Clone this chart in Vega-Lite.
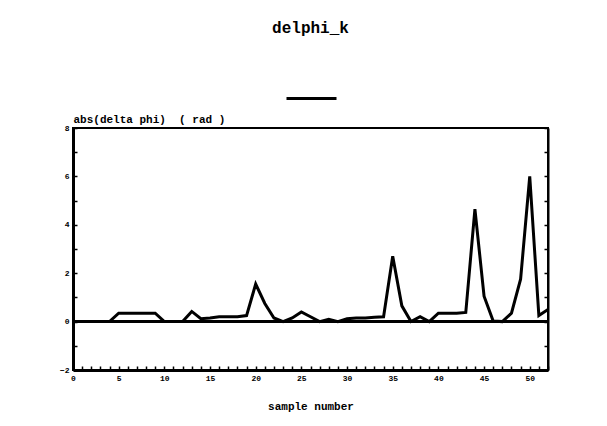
{
  "$schema": "https://vega.github.io/schema/vega-lite/v6.json",
  "autosize": "none",
  "width": 475,
  "height": 242,
  "padding": {"left": 73, "top": 128, "right": 59, "bottom": 56},
  "background": "white",
  "title": {
    "text": "delphi_k",
    "font": "Liberation Mono",
    "fontSize": 16,
    "fontWeight": "bold",
    "color": "black",
    "anchor": "middle",
    "offset": 36
  },
  "config": {
    "view": {"stroke": "black", "strokeWidth": 2},
    "axis": {
      "labelFont": "Liberation Mono",
      "labelFontWeight": "bold",
      "labelFontSize": 8,
      "labelColor": "black",
      "labelOverlap": false,
      "titleFont": "Liberation Mono",
      "titleFontWeight": "bold",
      "titleFontSize": 11,
      "titleColor": "black",
      "domainColor": "black",
      "tickColor": "black",
      "grid": false
    }
  },
  "data": {
    "values": [
      {"n": 0, "v": 0}, {"n": 1, "v": 0}, {"n": 2, "v": 0}, {"n": 3, "v": 0},
      {"n": 4, "v": 0}, {"n": 5, "v": 0.35}, {"n": 6, "v": 0.35}, {"n": 7, "v": 0.35},
      {"n": 8, "v": 0.35}, {"n": 9, "v": 0.35}, {"n": 10, "v": 0}, {"n": 11, "v": 0},
      {"n": 12, "v": 0}, {"n": 13, "v": 0.42}, {"n": 14, "v": 0.12}, {"n": 15, "v": 0.15},
      {"n": 16, "v": 0.2}, {"n": 17, "v": 0.2}, {"n": 18, "v": 0.2}, {"n": 19, "v": 0.25},
      {"n": 20, "v": 1.55}, {"n": 21, "v": 0.75}, {"n": 22, "v": 0.15}, {"n": 23, "v": 0},
      {"n": 24, "v": 0.15}, {"n": 25, "v": 0.4}, {"n": 26, "v": 0.2}, {"n": 27, "v": 0},
      {"n": 28, "v": 0.1}, {"n": 29, "v": 0}, {"n": 30, "v": 0.12}, {"n": 31, "v": 0.15},
      {"n": 32, "v": 0.15}, {"n": 33, "v": 0.18}, {"n": 34, "v": 0.2}, {"n": 35, "v": 2.7},
      {"n": 36, "v": 0.65}, {"n": 37, "v": 0}, {"n": 38, "v": 0.2}, {"n": 39, "v": 0},
      {"n": 40, "v": 0.35}, {"n": 41, "v": 0.35}, {"n": 42, "v": 0.35}, {"n": 43, "v": 0.38},
      {"n": 44, "v": 4.65}, {"n": 45, "v": 1.05}, {"n": 46, "v": 0.02}, {"n": 47, "v": 0},
      {"n": 48, "v": 0.35}, {"n": 49, "v": 1.75}, {"n": 50, "v": 6.0}, {"n": 51, "v": 0.25},
      {"n": 52, "v": 0.5}
    ]
  },
  "layer": [
    {
      "mark": {"type": "rule", "color": "black", "strokeWidth": 2},
      "encoding": {"y": {"datum": 0, "type": "quantitative", "axis": null}}
    },
    {
      "mark": {"type": "line", "strokeWidth": 3, "strokeJoin": "miter", "clip": true},
      "encoding": {
        "x": {
          "field": "n",
          "type": "quantitative",
          "scale": {"domain": [0, 52], "nice": false, "zero": false},
          "axis": {
            "orient": "bottom",
            "title": "sample number",
            "titlePadding": 18,
            "values": [0,1,2,3,4,5,6,7,8,9,10,11,12,13,14,15,16,17,18,19,20,21,22,23,24,25,26,27,28,29,30,31,32,33,34,35,36,37,38,39,40,41,42,43,44,45,46,47,48,49,50,51,52],
            "labelExpr": "datum.value % 5 == 0 ? datum.label : ''",
            "domainWidth": 3,
            "tickSize": -4,
            "tickWidth": 1.5,
            "labelPadding": 8,
            "labelFlush": false
          }
        },
        "y": {
          "field": "v",
          "type": "quantitative",
          "scale": {"domain": [-2, 8], "nice": false},
          "axis": {
            "orient": "left",
            "title": "abs(delta phi)\u00a0\u00a0( rad )",
            "titleAngle": 0,
            "titleX": 0,
            "titleY": -4,
            "titleAlign": "left",
            "titleBaseline": "bottom",
            "values": [-2,-1,0,1,2,3,4,5,6,7,8],
            "labelExpr": "datum.value % 2 == 0 ? datum.label : ''",
            "domainWidth": 3,
            "tickSize": -4,
            "tickWidth": 1.5,
            "labelPadding": 8
          }
        },
        "color": {
          "datum": "delphi_k",
          "scale": {"range": ["black"]},
          "legend": {
            "orient": "none",
            "legendX": 212,
            "legendY": -56,
            "title": null,
            "symbolType": "stroke",
            "symbolSize": 2500,
            "symbolStrokeWidth": 3,
            "labelExpr": "''",
            "padding": 0
          }
        }
      }
    },
    {
      "mark": {"type": "point", "opacity": 0},
      "encoding": {
        "y": {
          "field": "v",
          "type": "quantitative",
          "axis": {
            "orient": "right",
            "title": null,
            "labels": false,
            "values": [-2,-1,0,1,2,3,4,5,6,7,8],
            "domainWidth": 2,
            "tickSize": -4,
            "tickWidth": 1.5
          }
        }
      }
    }
  ]
}
